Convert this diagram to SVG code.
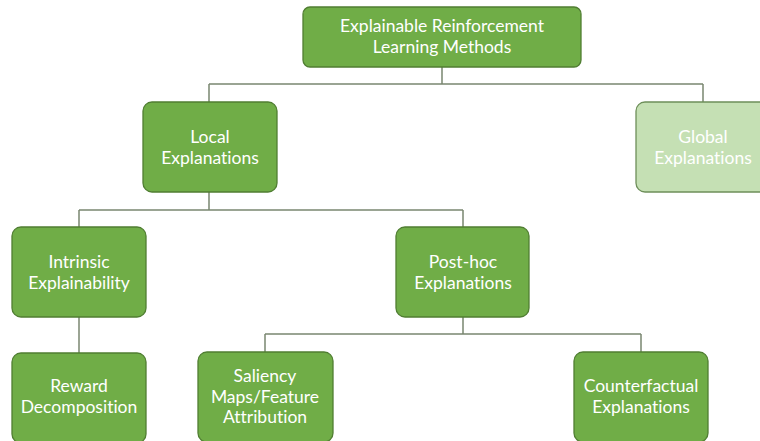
<svg xmlns="http://www.w3.org/2000/svg" width="760" height="441" viewBox="0 0 760 441">
  <style>
    .box { fill: #70AD47; stroke: #507E32; stroke-width: 1.3; }
    .box.light { fill: #C5E0B4; stroke: #6E8F5A; }
    .lbl { font-family: Lato, "Open Sans", "Liberation Sans", sans-serif; font-size: 17.5px; fill: #FFFFFF; text-anchor: middle; font-variant-ligatures: none; }
    .conn { fill: none; stroke: #7A8670; stroke-width: 1.5; }
  </style>
  <rect width="760" height="441" fill="#FFFFFF"/>

  <g id="connectors">
    <path class="conn" d="M442 67 V84 M209 84 H703 M209 84 V102 M703 84 V102"/>
    <path class="conn" d="M209 192 V210 M79 210 H463 M79 210 V227 M463 210 V227"/>
    <path class="conn" d="M79 317 V353"/>
    <path class="conn" d="M463 317 V334 M265 334 H641 M265 334 V352 M641 334 V352"/>
  </g>

  <g id="root">
    <rect class="box" x="303" y="7" width="278" height="60" rx="7"/>
    <text class="lbl" x="442" y="32">Explainable Reinforcement</text>
    <text class="lbl" x="442" y="53">Learning Methods</text>
  </g>

  <g id="local">
    <rect class="box" x="143" y="102" width="134" height="90" rx="9"/>
    <text class="lbl" x="210" y="143">Local</text>
    <text class="lbl" x="210" y="164">Explanations</text>
  </g>

  <g id="global">
    <rect class="box light" x="636" y="102" width="134" height="90" rx="9"/>
    <text class="lbl" x="703" y="143">Global</text>
    <text class="lbl" x="703" y="164">Explanations</text>
  </g>

  <g id="intrinsic">
    <rect class="box" x="12" y="227" width="134" height="90" rx="9"/>
    <text class="lbl" x="79" y="268">Intrinsic</text>
    <text class="lbl" x="79" y="289">Explainability</text>
  </g>

  <g id="posthoc">
    <rect class="box" x="396" y="227" width="133" height="90" rx="9"/>
    <text class="lbl" x="463" y="268">Post-hoc</text>
    <text class="lbl" x="463" y="289">Explanations</text>
  </g>

  <g id="reward">
    <rect class="box" x="12" y="353" width="134" height="90" rx="9"/>
    <text class="lbl" x="79" y="392">Reward</text>
    <text class="lbl" x="79" y="413">Decomposition</text>
  </g>

  <g id="saliency">
    <rect class="box" x="198" y="352" width="135" height="90" rx="9"/>
    <text class="lbl" x="265" y="382">Saliency</text>
    <text class="lbl" x="265" y="403">Maps/Feature</text>
    <text class="lbl" x="265" y="423">Attribution</text>
  </g>

  <g id="counterfactual">
    <rect class="box" x="574" y="352" width="134" height="90" rx="9"/>
    <text class="lbl" x="641" y="392">Counterfactual</text>
    <text class="lbl" x="641" y="413">Explanations</text>
  </g>
</svg>
